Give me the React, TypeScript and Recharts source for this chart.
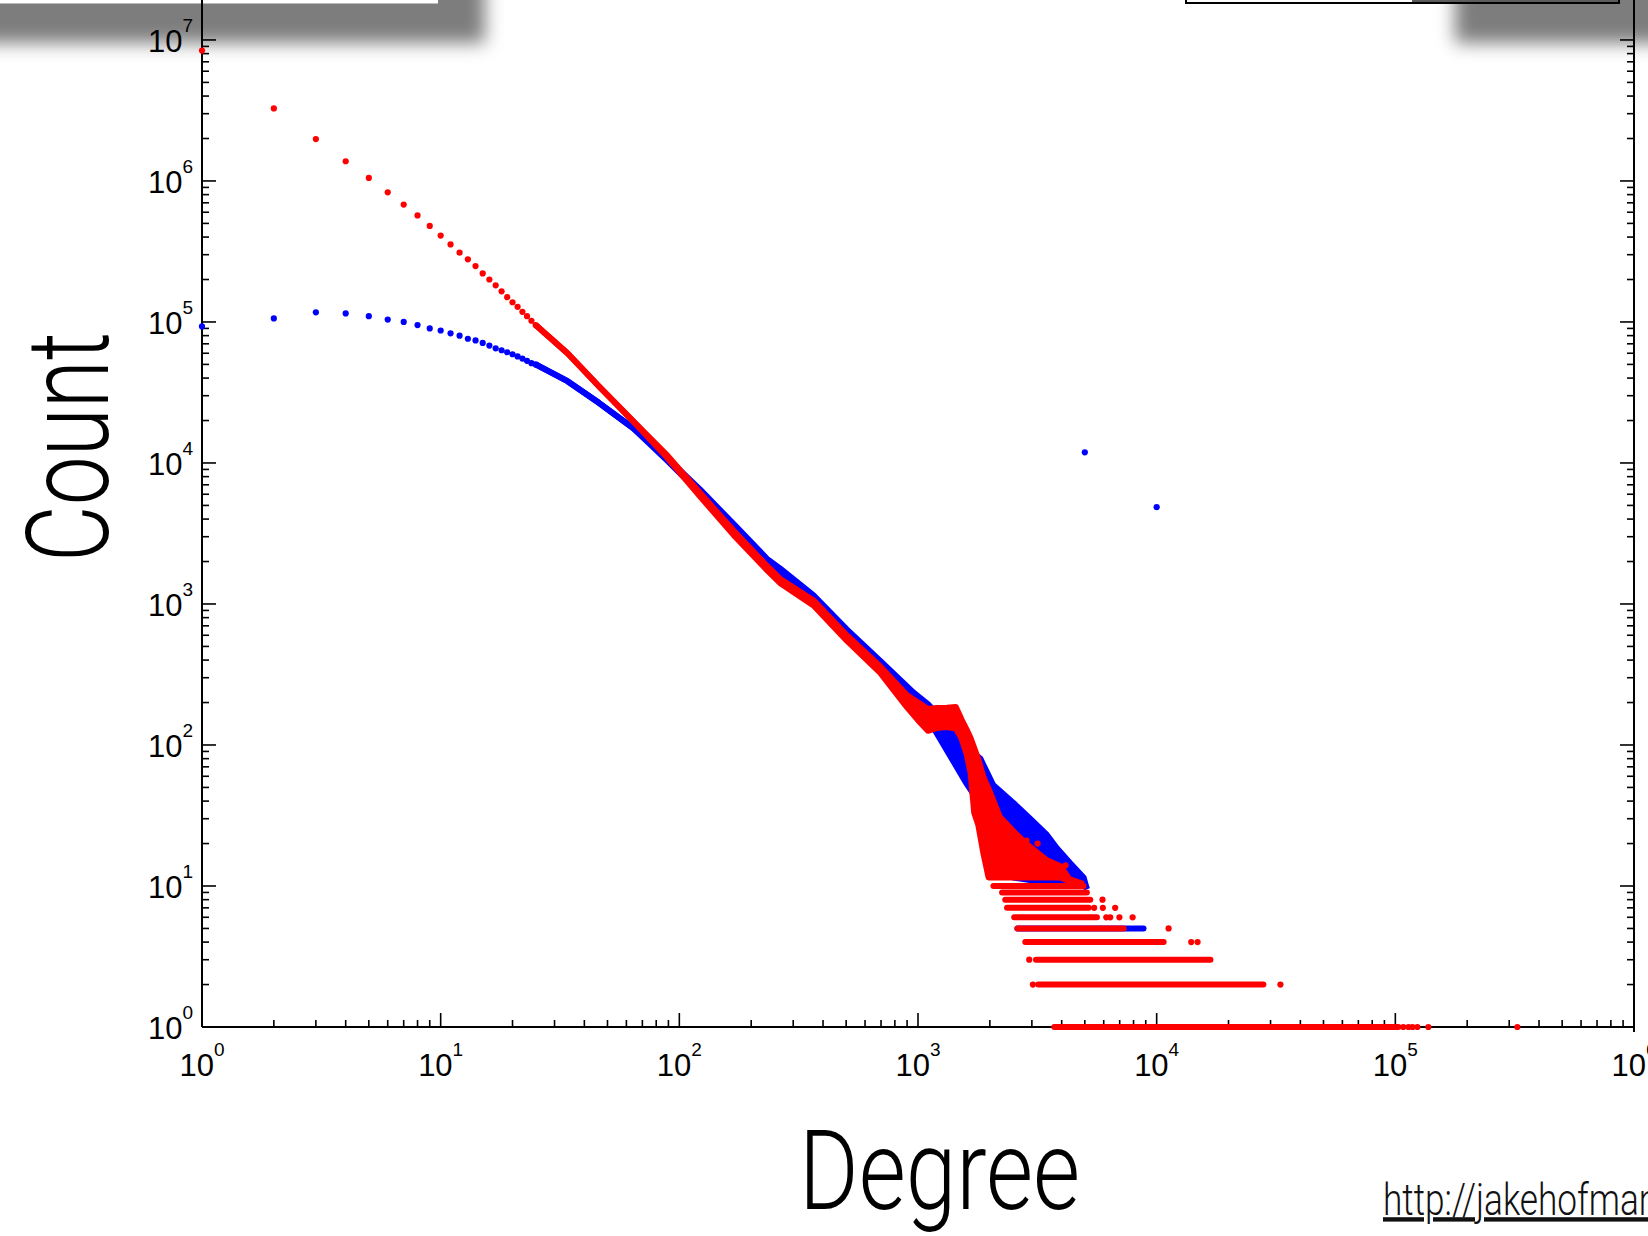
import React from 'react';
import { ComposedChart, XAxis, YAxis, Area, Line, Scatter, ReferenceLine } from 'recharts';

const W = 1648;
const H = 1236;
const RED = '#ff0000';
const BLUE = '#0000ff';
const TICK_FONT = '"Liberation Sans", Arial, Helvetica, sans-serif';
const LABEL_FONT = 'Roboto, "DejaVu Sans", sans-serif';

// log axes: majors carry a "10^n" label, minors are 2..9 inside each decade
const xMajorTicks = [1, 10, 100, 1000, 10000, 100000, 1000000];
const yMajorTicks = [1, 10, 100, 1000, 10000, 100000, 1000000, 10000000];
const decadeLabels = ['0', '1', '2', '3', '4', '5', '6', '7'];
const minorSteps = [2, 3, 4, 5, 6, 7, 8, 9];

// the plot area is padded by PAD px left and below the drawn frame, so dots sitting
// on the frame (degree 1, count 1) are not cut by the clip rectangle
const PAD = 5;
const X_MIN = 0.9529; // 5 px left of degree 1
const Y_MIN = 0.9216; // 5 px below count 1
const Y_MAX = 1.92e7; // top edge of the (cropped) frame

// degrees 1..25 are still separate dots
const dotDegrees = [1, 2, 3, 4, 5, 6, 7, 8, 9, 10, 11, 12, 13, 14, 15, 16, 17, 18, 19, 20, 21, 22, 23, 24, 25];
const redDotCounts = [8.4e6, 3.27e6, 1.98e6, 1.38e6, 1.05e6, 8.3e5, 6.8e5, 5.7e5, 4.8e5, 4.1e5, 3.55e5, 3.1e5,
  2.78e5, 2.49e5, 2.21e5, 2.0e5, 1.82e5, 1.65e5, 1.5e5, 1.38e5, 1.28e5, 1.18e5, 1.1e5, 1.02e5, 9.5e4];
const blueDotCounts = [9.3e4, 1.06e5, 1.17e5, 1.15e5, 1.1e5, 1.04e5, 1.0e5, 9.5e4, 9.0e4, 8.7e4, 8.3e4, 8.0e4,
  7.6e4, 7.4e4, 7.1e4, 6.8e4, 6.5e4, 6.3e4, 6.1e4, 5.9e4, 5.7e4, 5.5e4, 5.3e4, 5.1e4, 5.0e4];

// from degree 25 on the dots merge into a band, read as low/high edges
const redBodyDegrees = [25, 34, 46, 64, 89, 122, 169, 233, 264, 365, 503, 695, 900, 1000, 1100, 1200, 1320, 1440,
  1520, 1600, 1660, 1720, 1790, 1880, 1975, 2200, 2600, 2860, 3470, 3950, 4300, 4940];
const redBodyHigh = [9.5e4, 6.0e4, 3.5e4, 1.98e4, 1.13e4, 6150, 3300, 1860, 1510, 1060, 600, 360, 225, 200, 180, 183,
  184, 186, 152, 128, 112, 95, 79, 59, 49, 31, 23, 19.7, 15.2, 13.8, 11.2, 10.3];
const redBodyLow = [9.5e4, 6.0e4, 3.5e4, 1.98e4, 1.09e4, 5800, 3080, 1740, 1410, 975, 550, 325, 185, 150, 126, 132,
  134, 131, 112, 86, 64, 33, 27, 17, 11.5, 11.5, 11.5, 11.5, 11.5, 11.5, 10.8, 10.3];

const blueBodyDegrees = [25, 34, 46, 64, 89, 122, 169, 233, 264, 365, 503, 695, 958, 1100, 1240, 1410, 1600, 1825,
  2065, 2505, 2950, 3470, 3820, 4345, 4940, 5100];
const blueBodyHigh = [5.0e4, 3.8e4, 2.67e4, 1.77e4, 1.08e4, 6500, 3680, 2090, 1790, 1150, 660, 395, 235, 195, 158,
  124, 96, 80, 52, 39, 30, 23, 18.5, 14.5, 11.5, 9.5];
const blueBodyLow = [5.0e4, 3.8e4, 2.67e4, 1.77e4, 1.04e4, 6100, 3420, 1910, 1650, 1040, 590, 350, 205, 155, 110,
  76, 53, 38, 16, 11.5, 11, 10.5, 10.5, 10.5, 10.5, 9.5];

// the low counts form horizontal rows of dots
const rowCounts = [1, 2, 3, 4, 5, 6, 7, 8, 9, 10];
const redRowStart = [3722, 3190, 3120, 2815, 2610, 2530, 2360, 2320, 2250, 2070];
const redRowEnd = [103000, 28000, 16800, 10700, 7270, 5620, 5190, 5270, 5100, 4940];
const blueRowCounts = [5];
const blueRowStart = [2610];
const blueRowEnd = [8810];

const redStrayDegrees = [108000, 113500, 118000, 123700, 137500, 324500, 3030, 33000, 2925, 13960, 14840, 11220,
  6150, 6390, 6980, 7930, 5470, 5950, 6700, 5930, 2850, 3170, 4150];
const redStrayCounts = [1, 1, 1, 1, 1, 1, 2, 2, 3, 4, 4, 5, 6, 6, 6, 6, 7, 7, 7, 8, 21, 20, 14];
const blueStrayDegrees = [5000, 10000];
const blueStrayCounts = [11900, 4860];

const withMinor = (majors: number[]) => {
  const out: number[] = [];
  majors.forEach((m, i) => {
    out.push(m);
    if (i < majors.length - 1) minorSteps.forEach(s => out.push(s * m));
  });
  return out;
};
const xTicks = withMinor(xMajorTicks);
const yTicks = withMinor(yMajorTicks);

const toPoints = (xs: number[], ys: number[]) => xs.map((x, i) => ({ x, y: ys[i] }));
const toRange = (xs: number[], lo: number[], hi: number[]) => xs.map((x, i) => ({ x, y: [lo[i], hi[i]] }));
const toRows = (counts: number[], from: number[], to: number[]) =>
  counts.map((c, i) => [{ x: from[i], y: c }, { x: to[i], y: c }]);

const Decade = ({ x, y, idx, anchor }: { x: number; y: number; idx: number; anchor: 'middle' | 'end' }) => (
  <text x={x} y={y} textAnchor={anchor} fontFamily={TICK_FONT} fontSize={31} fill="#000">
    10<tspan dy={-20} fontSize={19}>{decadeLabels[idx]}</tspan>
  </text>
);

// inward-pointing ticks like the original (matlab) frame
const XTick = (props: any) => {
  const { x, payload } = props;
  const y = props.y - PAD;
  const idx = xMajorTicks.indexOf(payload.value);
  return (
    <g>
      <line x1={x} x2={x} y1={y} y2={y - (idx >= 0 ? 14 : 7)} stroke="#000" strokeWidth={1.6} />
      {idx >= 0 && <Decade x={x} y={y + 49} idx={idx} anchor="middle" />}
    </g>
  );
};

const LeftTick = (props: any) => {
  const { y, payload } = props;
  const x = props.x + PAD;
  const idx = yMajorTicks.indexOf(payload.value);
  return (
    <g>
      <line x1={x} x2={x + (idx >= 0 ? 14 : 7)} y1={y} y2={y} stroke="#000" strokeWidth={1.6} />
      {idx >= 0 && <Decade x={x - 9} y={y + 12} idx={idx} anchor="end" />}
    </g>
  );
};

const RightTick = (props: any) => {
  const { x, y, payload } = props;
  const major = yMajorTicks.includes(payload.value);
  return <line x1={x} x2={x - (major ? 14 : 7)} y1={y} y2={y} stroke="#000" strokeWidth={1.6} />;
};

const dot = (color: string) => (p: any) => <circle cx={p.cx} cy={p.cy} r={3.1} fill={color} />;
const noMark = () => <g />;

const shadow = (left: number, width: number): React.CSSProperties => ({
  position: 'absolute', left, top: -30, width, height: 73, background: '#7d7d7d', filter: 'blur(9px)',
});

const layer: React.CSSProperties = { position: 'absolute', left: 0, top: 0 };

// frame, ticks and tick labels (drawn underneath the markers)
function Frame() {
  const frame = { stroke: '#000', strokeWidth: 2 };
  const anchorData = toPoints(dotDegrees, redDotCounts);
  return (
    <ComposedChart width={W} height={H} margin={{ top: 0, right: 4, bottom: 144, left: 137 }}>
      <XAxis type="number" dataKey="x" scale="log" domain={[X_MIN, 1e6]} ticks={xTicks}
        interval={0} height={60} tickSize={0} tickMargin={0} tickLine={false} axisLine={false} tick={<XTick />} />
      <YAxis yAxisId="left" type="number" dataKey="y" scale="log" domain={[Y_MIN, Y_MAX]}
        ticks={yTicks} interval={0} width={60} tickSize={0} tickMargin={0} tickLine={false} axisLine={false}
        tick={<LeftTick />} />
      <YAxis yAxisId="right" orientation="right" type="number" dataKey="y" scale="log" domain={[Y_MIN, Y_MAX]}
        ticks={yTicks} interval={0} width={10} tickSize={0} tickMargin={0} tickLine={false} axisLine={frame}
        tick={<RightTick />} />
      {/* unpainted series so both y axes get their scales */}
      <Scatter yAxisId="left" data={anchorData} dataKey="y" shape={noMark} isAnimationActive={false} />
      <Scatter yAxisId="right" data={anchorData} dataKey="y" shape={noMark} isAnimationActive={false} />
      <ReferenceLine yAxisId="left" segment={[{ x: 1, y: 1 }, { x: 1e6, y: 1 }]} {...frame} />
      <ReferenceLine yAxisId="left" segment={[{ x: 1, y: 1 }, { x: 1, y: Y_MAX }]} {...frame} />
    </ComposedChart>
  );
}

// the two degree distributions, same plot rectangle and scales as Frame
function Markers() {
  return (
    <ComposedChart width={W} height={H} margin={{ top: 0, right: 14, bottom: 204, left: 197 }}>
      <XAxis hide type="number" dataKey="x" scale="log" domain={[X_MIN, 1e6]} />
      <YAxis hide yAxisId="left" type="number" dataKey="y" scale="log" domain={[Y_MIN, Y_MAX]} />

      {/* blue series underneath */}
      <Area yAxisId="left" data={toRange(blueBodyDegrees, blueBodyLow, blueBodyHigh)} dataKey="y" type="linear"
        fill={BLUE} fillOpacity={1} stroke={BLUE} strokeWidth={6} strokeLinejoin="round" isAnimationActive={false} />
      {toRows(blueRowCounts, blueRowStart, blueRowEnd).map((row, i) => (
        <Line key={`br${i}`} yAxisId="left" data={row} dataKey="y" stroke={BLUE} strokeWidth={6}
          strokeLinecap="round" dot={false} activeDot={false} isAnimationActive={false} />
      ))}
      <Scatter yAxisId="left" data={toPoints(dotDegrees, blueDotCounts)} dataKey="y" shape={dot(BLUE)} isAnimationActive={false} />
      <Scatter yAxisId="left" data={toPoints(blueStrayDegrees, blueStrayCounts)} dataKey="y" shape={dot(BLUE)} isAnimationActive={false} />

      {/* red series on top */}
      <Area yAxisId="left" data={toRange(redBodyDegrees, redBodyLow, redBodyHigh)} dataKey="y" type="linear"
        fill={RED} fillOpacity={1} stroke={RED} strokeWidth={6} strokeLinejoin="round" isAnimationActive={false} />
      {toRows(rowCounts, redRowStart, redRowEnd).map((row, i) => (
        <Line key={`rr${i}`} yAxisId="left" data={row} dataKey="y" stroke={RED} strokeWidth={6}
          strokeLinecap="round" dot={false} activeDot={false} isAnimationActive={false} />
      ))}
      <Scatter yAxisId="left" data={toPoints(dotDegrees, redDotCounts)} dataKey="y" shape={dot(RED)} isAnimationActive={false} />
      <Scatter yAxisId="left" data={toPoints(redStrayDegrees, redStrayCounts)} dataKey="y" shape={dot(RED)} isAnimationActive={false} />
    </ComposedChart>
  );
}

export default function App() {
  return (
    <div style={{ position: 'absolute', left: 0, top: 0, width: W, height: H, overflow: 'hidden', background: '#fff' }}>
      {/* leftovers of the slide above the plot */}
      <div style={shadow(-30, 515)} />
      <div style={{ position: 'absolute', left: 0, top: 0, width: 438, height: 3, background: '#fff', borderBottom: '1px solid #bbb' }} />
      <div style={shadow(1455, 260)} />
      <div style={{ position: 'absolute', left: 1185, top: -12, width: 431, height: 12, border: '2px solid #000',
        background: 'linear-gradient(to right, #fff 0 225px, #5c5c5c 225px)' }} />

      <div style={layer}><Frame /></div>
      <div style={layer}><Markers /></div>

      <svg style={layer} width={W} height={H}>
        <text transform="translate(799,1209) scale(0.82,1)" fontFamily={LABEL_FONT} fontWeight={300} fontSize={111} fill="#000">Degree</text>
        <text transform="translate(108,562) rotate(-90) scale(0.76,1)" fontFamily={LABEL_FONT} fontWeight={300} fontSize={115} fill="#000">Count</text>
        <text transform="translate(1383,1215) scale(0.8,1)" fontFamily={LABEL_FONT} fontWeight={300} fontSize={44} fill="#111"
          textDecoration="underline">http://jakehofman.com</text>
      </svg>
    </div>
  );
}
